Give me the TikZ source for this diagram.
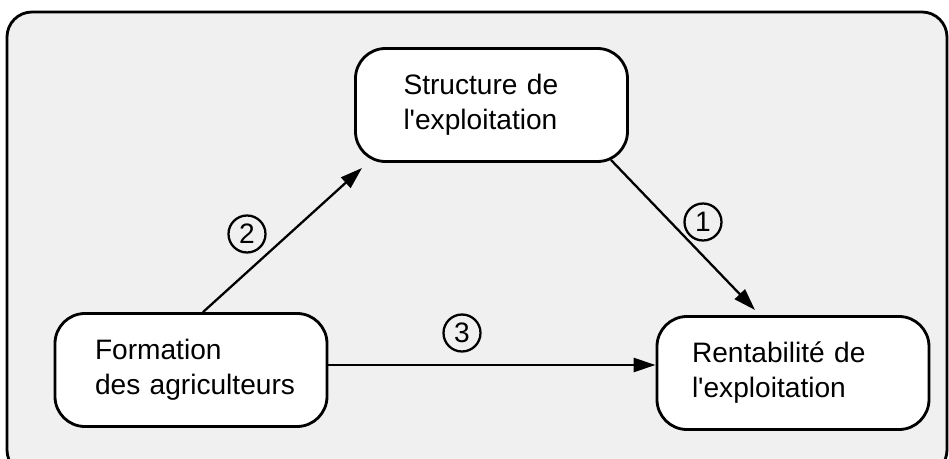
\documentclass[tikz,border=0pt]{standalone}
\usepackage{fontspec}
\setmainfont{Liberation Sans}
\usetikzlibrary{arrows.meta}

\begin{document}
\begin{tikzpicture}[auto,
	box/.style={draw, line width=1.6pt, rounded corners=0.6cm, fill=white, align=left,
		minimum width=5.44cm, minimum height=2.26cm, inner sep=0pt,
		font=\fontsize{16}{19.9}\selectfont},
	num/.style={draw, circle, line width=1.3pt, minimum size=0.74cm, inner sep=0pt,
		font=\fontsize{16}{18}\selectfont},
	arr/.style={line width=1.3pt, -{Triangle[length=0.44cm,width=0.28cm]}}]
	\useasboundingbox (0,0) rectangle (18.98,-9.18);
	\draw[line width=1.6pt, rounded corners=0.5cm, fill=gray!12] (0.14,-0.24) rectangle (18.94,-9.5);

	\node[box, text width=3.52cm] (struct) at (9.83,-2.10) {Structure de\\l\textquotesingle exploitation};
	\node[box, text width=4.04cm] (rent) at (15.86,-7.46) {Rentabilité de\\l\textquotesingle exploitation};
	\node[box, text width=3.84cm] (form) at (3.82,-7.40) {Formation\\\mbox{des agriculteurs}};

	\coordinate (tipS) at (7.24,-3.36);
	\coordinate (tipR) at (15.10,-6.20);

	\draw[arr] ([xshift=0.24cm]form.north) to (tipS);
	\draw[arr] ([xshift=-0.36cm,yshift=0.06cm]struct.south east) to (tipR);
	\draw[arr] ([yshift=0.1cm]form.east) to ([yshift=0.1cm]form.east -| rent.west);

	\node[num] (n1) at (14.06,-4.44) {1};
	\node[num] (n2) at (4.94,-4.68) {2};
	\node[num] (n3) at (9.24,-6.66) {3};
\end{tikzpicture}
\end{document}
